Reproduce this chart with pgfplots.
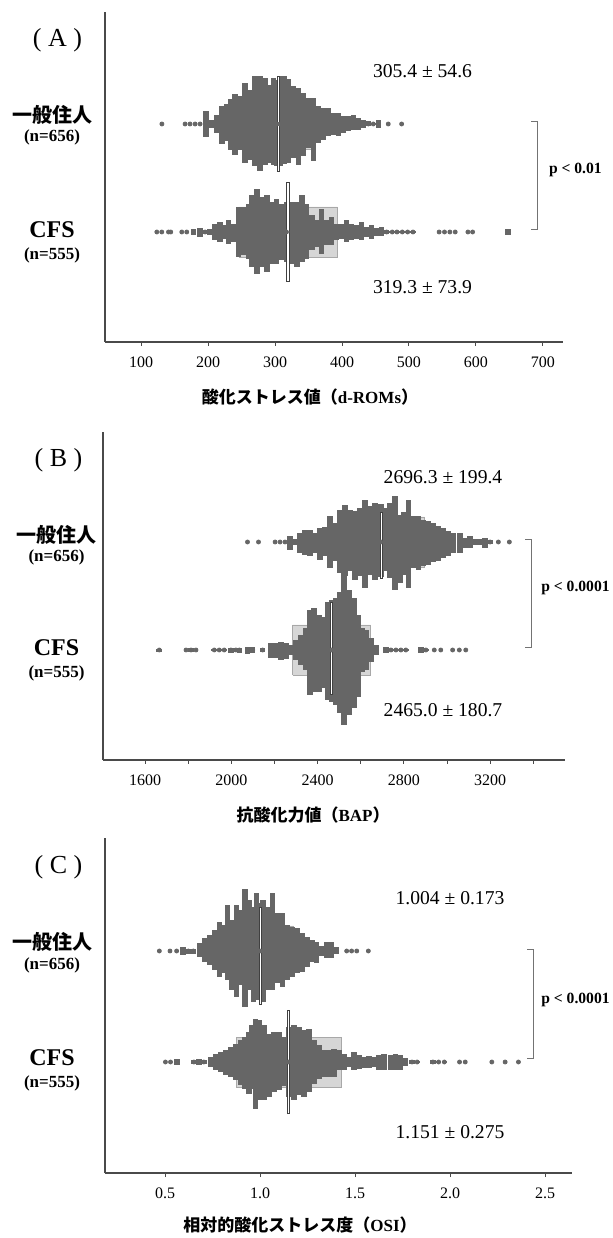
\documentclass[border=0pt]{standalone}
\usepackage{pgfplots}
\pgfplotsset{compat=1.18}
\usepackage{fontspec}
\setmainfont{Liberation Serif}
\newfontfamily\cjk{Noto Sans CJK JP}

\definecolor{swarmc}{HTML}{666666}
\definecolor{boxc}{HTML}{D6D6D6}
\definecolor{boxe}{HTML}{A8A8A8}
\definecolor{axc}{HTML}{4A4A4A}

\newcommand{\abc}{\fontsize{13}{13}\selectfont}
\newcommand{\grp}{\fontsize{10}{10}\selectfont\cjk\bfseries}
\newcommand{\nn}{\fontsize{8.5}{8.5}\selectfont\bfseries}
\newcommand{\cfs}{\fontsize{12}{12}\selectfont\bfseries}
\newcommand{\msd}{\fontsize{9.8}{9.8}\selectfont}
\newcommand{\pv}{\fontsize{7.8}{7.8}\selectfont\bfseries}
\newcommand{\xl}{\fontsize{8.5}{8.5}\selectfont\bfseries}

\pgfplotsset{
  panel/.style={scale only axis, anchor=south west, ymin=0,
    axis x line*=bottom, axis y line*=left,
    axis line style={axc, line width=0.7pt, -},
    ytick=\empty, tick align=outside, major tick length=2pt,
    tick style={axc, line width=0.5pt},
    xticklabel style={font=\fontsize{8}{8}\selectfont, yshift=-2pt},
    clip=false},
  swarm/.style={only marks, color=swarmc, mark=*, mark size=1.0pt,
    mark options={draw=swarmc, fill=swarmc},
    error bars/y dir=both, error bars/y explicit,
    error bars/error mark=none,
    error bars/error bar style={line width=2.8pt, draw=swarmc}},
  sdbox/.style={fill=boxc, draw=boxe, line width=0.4pt},
  meano/.style={draw=black!75, line width=1.6pt},
  meanw/.style={draw=white, line width=0.7pt},
}

\begin{document}
\begin{tikzpicture}
\useasboundingbox (0,0) rectangle (306pt,619pt);

% ---------------- (A) d-ROMs
\begin{axis}[panel, at={(52.5pt,448pt)}, width=229pt, height=165pt,
  xmin=46, xmax=730, ymax=330,
  xtick={100,200,300,400,500,600,700},
  xticklabels={100,200,300,400,500,600,700}]
\addplot[sdbox] coordinates {(250.8,193)(360.0,193)(360.0,243)(250.8,243)(250.8,193)};
\addplot[sdbox] coordinates {(245.4,85)(393.2,85)(393.2,135)(245.4,135)(245.4,85)};
\addplot[swarm] table[x=x, y expr=218, y error plus=u, y error minus=d] {
x u d
131 0 0
165.6 0 0
173 0 0
180.6 0 0
188 0 0
197 13 13
205 4 4
213 9 9
220.4 18 20
227.8 20 17
234.3 25 26
240.3 30 31
247.7 28 26
255.2 41 39
262.7 34 36
270.1 48 42
277.6 48 47
285 46 41
291.5 39 39
297.5 46 41
302.5 44 42
307.4 48 42
313.9 48 40
319.9 45 39
327.3 38 34
334.8 36 41
342.3 31 32
349.7 26 24
357.2 26 37
364.6 18 19
372.1 16 16
379.6 16 12
387 11 11
394.5 11 12
402 8 9
409.4 8 7
416.9 9 6
424.3 6 6
431.8 4 4
439.3 3 2
446.7 1 1
454.2 4 4
469 0 0
489 0 0
};
\addplot[swarm] table[x=x, y expr=110, y error plus=u, y error minus=d] {
x u d
123.4 0 0
130.8 0 0
140.8 0 0
144.2 0 0
160.7 0 0
168.1 0 0
178 3 3
188 4 5
195.5 2 2
203 3 3
210.4 8 8
217.9 10 10
223.8 7 7
230.3 12 12
237.8 8 10
245.2 25 25
252.7 25 23
260.2 28 27
265.1 37 35
272.6 43 42
280.1 35 35
287.5 37 40
295 30 32
302.4 33 32
309.9 28 28
317 30 30
324.8 30 32
332.3 30 35
339.8 37 30
347.2 28 27
354.7 17 18
362.2 12 15
369.6 23 22
377.1 12 13
384.5 15 13
392 8 8
399.5 8 7
406.9 12 10
414.4 8 8
421.9 7 7
429.3 10 8
436.8 5 5
444.2 7 7
451.7 4 4
459.2 5 4
466.6 2 2
475 1 1
482 1 1
490 1 1
498 1 1
506 1 1
545 0 0
553 0 0
561 0 0
569 0 0
588 0 0
595 0 0
648 3 3
};
\addplot[meano] coordinates {(305.4,170)(305.4,266)};
\addplot[meanw] coordinates {(305.4,171)(305.4,265)};
\addplot[meano] coordinates {(319.3,60)(319.3,160)};
\addplot[meanw] coordinates {(319.3,61)(319.3,159)};
\end{axis}

% ---------------- (B) BAP
\begin{axis}[panel, at={(51.5pt,239pt)}, width=231pt, height=164pt,
  xmin=1405, xmax=3547, ymax=328,
  xtick={1600,1800,2000,2200,2400,2600,2800,3000,3200,3400},
  xticklabels={1600,,2000,,2400,,2800,,3200,}]
\addplot[sdbox] coordinates {(2496.9,193)(2895.7,193)(2895.7,243)(2496.9,243)(2496.9,193)};
\addplot[sdbox] coordinates {(2284.3,85)(2645.7,85)(2645.7,135)(2284.3,135)(2284.3,85)};
\addplot[swarm] table[x=x, y expr=218, y error plus=u, y error minus=d] {
x u d
2075 0 0
2126 0 0
2203 0 0
2226 0 0
2249 0 0
2273 6 8
2296 3 3
2319 9 11
2342 12 13
2365 12 14
2389 9 11
2412 14 18
2435 15 14
2458 26 26
2481 19 19
2504 32 31
2528 37 34
2551 32 29
2574 31 38
2597 34 34
2620 42 46
2643 36 33
2667 39 38
2693 38 35
2718 34 29
2736 39 36
2759 46 48
2783 27 41
2801 30 33
2821 42 46
2844 26 26
2867 26 28
2891 22 24
2914 21 23
2937 19 20
2960 16 19
2983 14 16
3007 11 14
3030 9 11
3061 9 11
3084 4 6
3107 6 6
3130 3 3
3153 3 3
3176 4 6
3200 2 2
3238 0 0
3289 0 0
};
\addplot[swarm] table[x=x, y expr=110, y error plus=u, y error minus=d] {
x u d
1666 1 2
1790 0 0
1813 2 2
1836 0 0
1921 1 1
1944 1 1
1967 1 1
1998 2 3
2021 1 2
2037 2 3
2075 3 4
2099 3 3
2145 2 2
2183 7 8
2207 7 8
2230 8 10
2253 7 9
2276 5 5
2299 10 10
2323 15 15
2346 22 20
2364 40 45
2384 42 42
2408 35 42
2431 33 38
2446 48 50
2465 50 52
2485 52 55
2503 58 63
2523 83 75
2547 60 65
2570 52 58
2588 35 47
2605 22 22
2624 20 20
2647 12 12
2670 5 5
2717 3 3
2740 1 1
2763 1 1
2786 1 1
2809 1 1
2879 3 3
2902 1 1
2941 0 0
2971 0 0
3026 0 0
3057 0 0
3087 0 0
};
\addplot[meano] coordinates {(2696.3,181)(2696.3,248)};
\addplot[meanw] coordinates {(2696.3,182)(2696.3,247)};
\addplot[meano] coordinates {(2465.0,65)(2465.0,158)};
\addplot[meanw] coordinates {(2465.0,66)(2465.0,157)};
\end{axis}

% ---------------- (C) OSI
\begin{axis}[panel, at={(52.5pt,32.5pt)}, width=233.5pt, height=167.5pt,
  xmin=0.184, xmax=2.642, ymax=335,
  xtick={0.5,1.0,1.5,2.0,2.5},
  xticklabels={0.5,1.0,1.5,2.0,2.5}]
\addplot[sdbox] coordinates {(0.831,197)(1.177,197)(1.177,247)(0.831,247)(0.831,197)};
\addplot[sdbox] coordinates {(0.876,86)(1.426,86)(1.426,136)(0.876,136)(0.876,86)};
\addplot[swarm] table[x=x, y expr=222, y error plus=u, y error minus=d] {
x u d
0.470 0 0
0.526 0 0
0.561 0 0
0.596 4 4
0.623 2 3
0.649 2 3
0.684 8 6
0.710 13 11
0.737 16 14
0.763 21 19
0.786 29 26
0.807 26 22
0.828 46 29
0.851 31 39
0.877 46 46
0.898 41 34
0.921 62 56
0.944 51 39
0.965 44 51
0.982 58 49
1.000 48 48
1.017 51 51
1.039 44 39
1.065 58 39
1.091 38 32
1.118 38 36
1.144 26 29
1.170 24 26
1.196 23 22
1.223 18 21
1.249 14 16
1.275 11 11
1.298 9 12
1.325 5 5
1.351 9 7
1.377 9 7
1.403 4 3
1.456 0 0
1.482 0 0
1.509 0 0
1.570 0 0
};
\addplot[swarm] table[x=x, y expr=111, y error plus=u, y error minus=d] {
x u d
0.502 0 0
0.529 0 0
0.564 3 3
0.652 2 2
0.678 3 3
0.704 2 2
0.739 5 5
0.766 8 8
0.792 10 10
0.818 12 13
0.844 15 15
0.871 18 18
0.897 22 23
0.918 25 27
0.941 30 32
0.959 37 27
0.976 43 47
0.997 42 38
1.020 37 38
1.046 28 35
1.073 30 30
1.099 30 28
1.125 25 24
1.151 35 35
1.178 37 38
1.204 35 33
1.230 32 35
1.257 33 30
1.283 22 22
1.309 17 17
1.336 12 15
1.362 12 15
1.388 13 15
1.415 12 8
1.441 8 8
1.467 5 5
1.494 10 8
1.520 7 7
1.546 5 6
1.573 6 6
1.599 5 5
1.625 7 8
1.652 8 8
1.687 7 8
1.713 8 8
1.739 7 8
1.765 4 4
1.800 2 2
1.827 1 1
1.910 2 2
1.940 1 1
1.970 1 1
2.050 0 0
2.080 0 0
2.220 0 0
2.290 0 0
2.360 0 0
};
\addplot[meano] coordinates {(1.004,168)(1.004,266)};
\addplot[meanw] coordinates {(1.004,169)(1.004,265)};
\addplot[meano] coordinates {(1.151,59)(1.151,163)};
\addplot[meanw] coordinates {(1.151,60)(1.151,162)};
\end{axis}

% ---------------- labels
\tikzset{brk/.style={draw=black!55, line width=0.5pt}}
% A
\node[font=\abc] at (28.75pt,599pt) {(\hspace{0.25em}A\hspace{0.25em})};
\node[font=\grp] at (26pt,561.5pt) {一般住人};
\node[font=\nn] at (26pt,550.5pt) {(n=656)};
\node[font=\cfs] at (26pt,504pt) {CFS};
\node[font=\nn] at (26pt,491.5pt) {(n=555)};
\node[font=\msd] at (211.25pt,583.5pt) {305.4 ± 54.6};
\node[font=\msd] at (211.25pt,475.5pt) {319.3 ± 73.9};
\draw[brk] (265.5pt,558pt) -- (268.5pt,558pt) -- (268.5pt,504pt) -- (265.5pt,504pt);
\node[font=\pv, anchor=west] at (271pt,534pt) {p < 0.01};
\node[font=\xl] at (155pt,420.5pt) {{\cjk 酸化ストレス値（}d-ROMs{\cjk ）}};
% B
\node[font=\abc] at (29.25pt,389pt) {(\hspace{0.25em}B\hspace{0.25em})};
\node[font=\grp] at (28.5pt,351.5pt) {一般住人};
\node[font=\nn] at (28.25pt,340.5pt) {(n=656)};
\node[font=\cfs] at (28.25pt,295pt) {CFS};
\node[font=\nn] at (28.25pt,282.5pt) {(n=555)};
\node[font=\msd] at (221.5pt,380.5pt) {2696.3 ± 199.4};
\node[font=\msd] at (221.5pt,264pt) {2465.0 ± 180.7};
\draw[brk] (262.5pt,349pt) -- (265.5pt,349pt) -- (265.5pt,295pt) -- (262.5pt,295pt);
\node[font=\pv, anchor=east, inner sep=0.5pt] at (305.5pt,325pt) {p < 0.0001};
\node[font=\xl] at (156.5pt,211.5pt) {{\cjk 抗酸化力値（}BAP{\cjk ）}};
% C
\node[font=\abc] at (29.25pt,185.5pt) {(\hspace{0.25em}C\hspace{0.25em})};
\node[font=\grp] at (26pt,148pt) {一般住人};
\node[font=\nn] at (26pt,136.5pt) {(n=656)};
\node[font=\cfs] at (26pt,90pt) {CFS};
\node[font=\nn] at (26pt,77.5pt) {(n=555)};
\node[font=\msd] at (225pt,170pt) {1.004 ± 0.173};
\node[font=\msd] at (225pt,53pt) {1.151 ± 0.275};
\draw[brk] (263.5pt,144pt) -- (266.5pt,144pt) -- (266.5pt,89.5pt) -- (263.5pt,89.5pt);
\node[font=\pv, anchor=east, inner sep=0.5pt] at (305.5pt,119pt) {p < 0.0001};
\node[font=\xl] at (150pt,6.5pt) {{\cjk 相対的酸化ストレス度（}OSI{\cjk ）}};
\end{tikzpicture}
\end{document}
